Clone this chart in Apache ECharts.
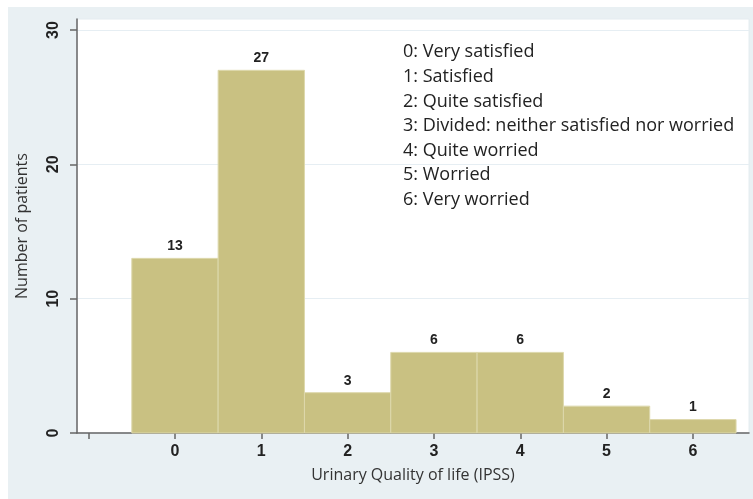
<!DOCTYPE html>
<html><head><meta charset="utf-8">
<script src="https://cdn.jsdelivr.net/npm/echarts@6/dist/echarts.min.js"></script>
<style>
html,body{margin:0;padding:0;background:#fff}
#bg{position:absolute;left:8px;top:7px;width:745px;height:492px;background:#e9f0f3}
#c{position:absolute;left:0;top:0;width:753px;height:499px}
</style></head>
<body><div id="bg"></div><div id="c"></div>
<script>
const categories = [0, 1, 2, 3, 4, 5, 6];
const counts = [13, 27, 3, 6, 6, 2, 1];
const xTickValues = [-1, 0, 1, 2, 3, 4, 5, 6];
const xLabelValues = [0, 1, 2, 3, 4, 5, 6];
const yTickValues = [0, 10, 20, 30];
const legendLines = [
  '0: Very satisfied',
  '1: Satisfied',
  '2: Quite satisfied',
  '3: Divided: neither satisfied nor worried',
  '4: Quite worried',
  '5: Worried',
  '6: Very worried'
];
const xTitle = 'Urinary Quality of life (IPSS)';
const yTitle = 'Number of patients';

const chart = echarts.init(document.getElementById('c'), null, {renderer: 'canvas'});
const data = categories.map((c, i) => [c, counts[i]]);

chart.setOption({
  backgroundColor: 'transparent',
  animation: false,
  grid: {left: 77, right: 4, top: 19, bottom: 66, show: true, backgroundColor: '#ffffff', borderWidth: 1, borderColor: '#e4ecf0'},
  xAxis: {
    type: 'value', min: -1.135, max: 6.65,
    axisLine: {show: true, onZero: false, lineStyle: {color: '#666', width: 1.5}},
    axisTick: {show: true, length: 6, customValues: xTickValues, lineStyle: {color: '#666', width: 1.5}},
    axisLabel: {customValues: xLabelValues, fontSize: 16, fontWeight: 'bold', color: '#222', margin: 11, fontFamily: 'Liberation Sans'},
    splitLine: {show: false},
    name: xTitle, nameLocation: 'middle', nameGap: 34,
    nameTextStyle: {fontSize: 16, color: '#333', fontFamily: 'Open Sans'}
  },
  yAxis: {
    type: 'value', min: 0, max: 30.82,
    axisLine: {show: true, onZero: false, lineStyle: {color: '#666', width: 1.5}},
    axisTick: {show: true, length: 7, customValues: yTickValues, lineStyle: {color: '#666', width: 1.5}},
    axisLabel: {customValues: yTickValues, rotate: 90, fontSize: 16, fontWeight: 'bold', color: '#222', margin: 15, fontFamily: 'Liberation Sans'},
    splitLine: {show: true, lineStyle: {color: '#e6eef3', width: 1}},
    name: yTitle, nameLocation: 'middle', nameGap: 47,
    nameTextStyle: {fontSize: 16, color: '#333', fontFamily: 'Open Sans'}
  },
  series: [{
    type: 'custom',
    data: data,
    renderItem: function (params, api) {
      const x = api.value(0), y = api.value(1);
      const p0 = api.coord([x - 0.5, y]);
      const p1 = api.coord([x + 0.5, 0]);
      return {
        type: 'group',
        children: [
          {type: 'rect', shape: {x: p0[0], y: p0[1], width: p1[0] - p0[0], height: p1[1] - p0[1]},
           style: {fill: '#c9c182', stroke: '#ddd8ac', lineWidth: 1}},
          {type: 'text', style: {text: String(y), x: (p0[0] + p1[0]) / 2, y: p0[1] - 5, align: 'center', verticalAlign: 'bottom',
            font: 'bold 14px "Liberation Sans"', fill: '#222'}}
        ]
      };
    }
  }],
  graphic: [{
    type: 'text', left: 403, top: 40,
    style: {text: legendLines.join('\n'), font: '18px "Open Sans"', lineHeight: 24.6, fill: '#222'}
  }]
});
</script>
</body></html>
